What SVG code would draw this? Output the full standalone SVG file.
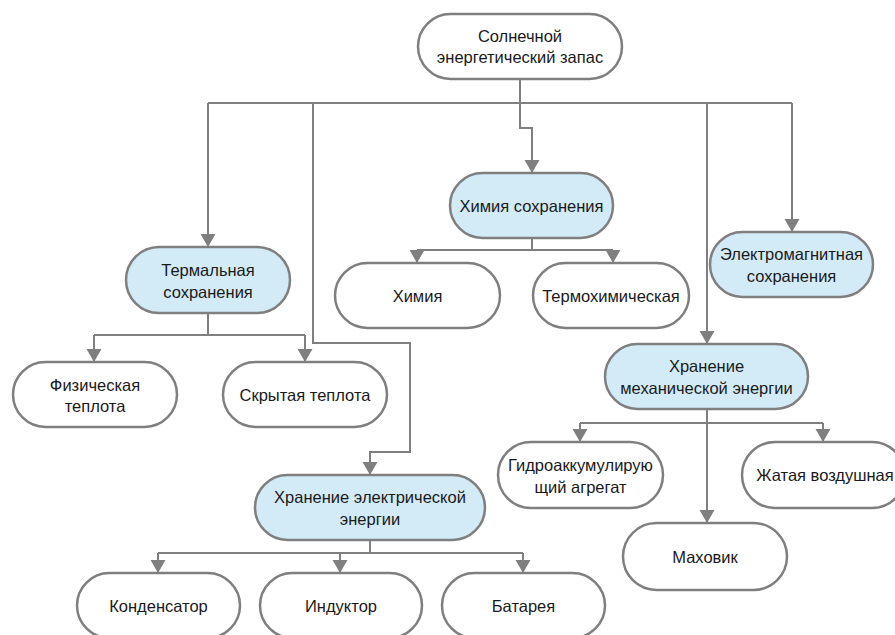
<svg xmlns="http://www.w3.org/2000/svg" width="895" height="635" viewBox="0 0 895 635">
<style>
.n{fill:#ffffff;stroke:#7f7f7f;stroke-width:2.5}
.b{fill:#d3ebf7}
.t{font-family:"Liberation Sans",Arial,sans-serif;font-size:16.5px;fill:#1a1a1a;text-anchor:middle}
.c{fill:none;stroke:#7f7f7f;stroke-width:2}
</style>
<defs>
<marker id="ah" markerUnits="userSpaceOnUse" markerWidth="16" markerHeight="16" viewBox="0 0 16 16" refX="14" refY="8" orient="auto">
<path d="M1,0.5 L14,8 L1,15.5 Z" fill="#7f7f7f"/>
</marker>
</defs>
<rect width="895" height="635" fill="#ffffff"/>
<g id="connectors">
<path class="c" d="M520,79 V103 M208,103 H792"/>
<path class="c" d="M208,103 V247" marker-end="url(#ah)"/>
<path class="c" d="M313,103 V343 H410 V452 H370 V475" marker-end="url(#ah)"/>
<path class="c" d="M520,103 V128 H532 V173" marker-end="url(#ah)"/>
<path class="c" d="M707,103 V344" marker-end="url(#ah)"/>
<path class="c" d="M792,103 V232" marker-end="url(#ah)"/>
<path class="c" d="M532,238 V250 M417,250 H613"/>
<path class="c" d="M417,250 V263" marker-end="url(#ah)"/>
<path class="c" d="M613,250 V263" marker-end="url(#ah)"/>
<path class="c" d="M208,313 V335 M94,335 H305"/>
<path class="c" d="M94,335 V362" marker-end="url(#ah)"/>
<path class="c" d="M305,335 V362" marker-end="url(#ah)"/>
<path class="c" d="M707,409 V423 M580,423 H823"/>
<path class="c" d="M580,423 V442" marker-end="url(#ah)"/>
<path class="c" d="M823,423 V442" marker-end="url(#ah)"/>
<path class="c" d="M707,423 V523" marker-end="url(#ah)"/>
<path class="c" d="M370,540 V553 M158,553 H523"/>
<path class="c" d="M158,553 V573" marker-end="url(#ah)"/>
<path class="c" d="M340,553 V573" marker-end="url(#ah)"/>
<path class="c" d="M523,553 V573" marker-end="url(#ah)"/>
</g>
<g id="root"><rect class="n" x="418" y="14" width="204" height="65" rx="32.5"/><text class="t" x="520" y="42">Солнечной</text><text class="t" x="520" y="63">энергетический запас</text></g>
<g id="therm"><rect class="n b" x="126" y="247" width="164" height="66" rx="33"/><text class="t" x="208" y="276">Термальная</text><text class="t" x="208" y="298">сохранения</text></g>
<g id="chem"><rect class="n b" x="450" y="173" width="163" height="65" rx="32.5"/><text class="t" x="531.5" y="212">Химия сохранения</text></g>
<g id="em"><rect class="n b" x="710" y="232" width="163" height="65" rx="32.5"/><text class="t" x="791.5" y="260">Электромагнитная</text><text class="t" x="791.5" y="282">сохранения</text></g>
<g id="himiya"><rect class="n" x="335" y="263" width="165" height="65" rx="32.5"/><text class="t" x="417.5" y="302">Химия</text></g>
<g id="thermochem"><rect class="n" x="533" y="263" width="156" height="65" rx="32.5"/><text class="t" x="611" y="302">Термохимическая</text></g>
<g id="fiz"><rect class="n" x="13" y="362" width="164" height="65" rx="32.5"/><text class="t" x="95" y="391">Физическая</text><text class="t" x="95" y="412">теплота</text></g>
<g id="skryt"><rect class="n" x="223" y="362" width="164" height="65" rx="32.5"/><text class="t" x="305" y="401">Скрытая теплота</text></g>
<g id="mech"><rect class="n b" x="605" y="344" width="203" height="65" rx="32.5"/><text class="t" x="706.5" y="372">Хранение</text><text class="t" x="706.5" y="394">механической энергии</text></g>
<g id="elec"><rect class="n b" x="255" y="475" width="230" height="65" rx="32.5"/><text class="t" x="370" y="503">Хранение электрической</text><text class="t" x="370" y="525">энергии</text></g>
<g id="gidro"><rect class="n" x="498" y="442" width="165" height="66" rx="33"/><text class="t" x="580.5" y="471">Гидроаккумулирую</text><text class="t" x="580.5" y="493">щий агрегат</text></g>
<g id="zhat"><rect class="n" x="742" y="442" width="163" height="66" rx="33"/><text class="t" x="825" y="481">Жатая воздушная</text></g>
<g id="mahovik"><rect class="n" x="623" y="523" width="164" height="67" rx="33.5"/><text class="t" x="705" y="563">Маховик</text></g>
<g id="kond"><rect class="n" x="77" y="573" width="163" height="65" rx="32.5"/><text class="t" x="158.5" y="612">Конденсатор</text></g>
<g id="induk"><rect class="n" x="260" y="573" width="162" height="65" rx="32.5"/><text class="t" x="341" y="612">Индуктор</text></g>
<g id="batar"><rect class="n" x="442" y="573" width="163" height="65" rx="32.5"/><text class="t" x="523.5" y="612">Батарея</text></g>
</svg>
